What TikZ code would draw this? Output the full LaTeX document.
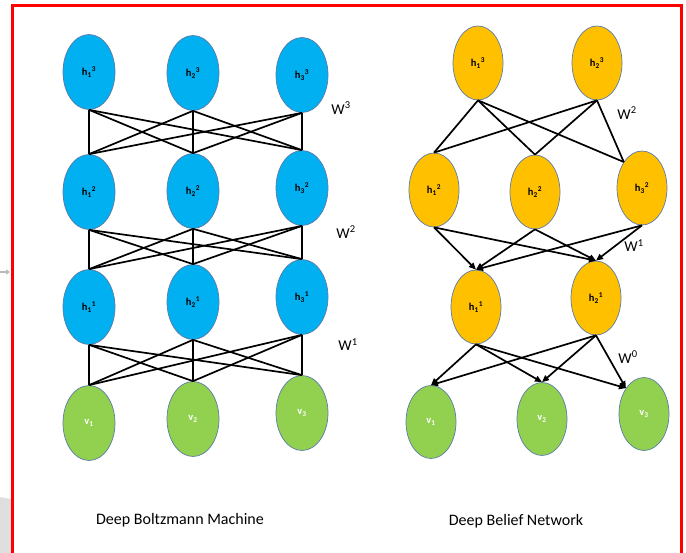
\documentclass[tikz,border=0pt]{standalone}
\usepackage{fontspec}
\setmainfont{Carlito}
\usetikzlibrary{shapes.geometric,arrows.meta}
\definecolor{HBlue}{HTML}{00B0F0}
\definecolor{HOrange}{HTML}{FFC000}
\definecolor{VGreen}{HTML}{92D050}
\definecolor{Rim}{HTML}{5B7BA6}
\NewDocumentCommand{\HLab}{m m}{h\textsubscript{#1}\textsuperscript{#2}}
\NewDocumentCommand{\VLab}{m}{v\textsubscript{#1}}
\tikzset{
    unit/.style={ellipse, draw=Rim, line width=0.7pt, minimum width=52, minimum height=75,
        inner sep=0pt, font=\fontsize{10.5}{10.5}\selectfont\bfseries},
    hid/.style={unit, fill=HBlue},
    belief/.style={unit, fill=HOrange, minimum width=50, minimum height=74},
    vis/.style={unit, fill=VGreen, text=white},
    link/.style={black, line width=1.7pt},
    dlink/.style={link, -{Triangle[length=7pt,width=6pt]}},
    wlab/.style={font=\fontsize{15}{18}\selectfont},
}
\begin{document}
\begin{tikzpicture}[x=1pt, y=-1pt]

    \useasboundingbox (0,0) rectangle (686,553);

    % bits of the screenshot outside the frame
    \fill[gray!25] (0,497) -- (11,499) -- (11,553) -- (0,553) -- cycle;
    \draw[gray!55, line width=2pt, -{Triangle[length=4pt,width=5pt]}] (0,272) -- (10,272);
    \draw[red, line width=2.5pt] (12.5,553) |- (681.5,5.5) -- (681.5,553);

    % Deep Boltzmann Machine
    \node[hid] (bm-h3-1) at (89,72)  {\HLab{1}{3}};
    \node[hid] (bm-h3-2) at (193,73) {\HLab{2}{3}};
    \node[hid] (bm-h3-3) at (302,75) {\HLab{3}{3}};
    \node[hid] (bm-h2-1) at (89,192)  {\HLab{1}{2}};
    \node[hid] (bm-h2-2) at (193,191) {\HLab{2}{2}};
    \node[hid] (bm-h2-3) at (302,188) {\HLab{3}{2}};
    \node[hid] (bm-h1-1) at (89,307)  {\HLab{1}{1}};
    \node[hid] (bm-h1-2) at (193,302) {\HLab{2}{1}};
    \node[hid] (bm-h1-3) at (302,297) {\HLab{3}{1}};
    \node[vis] (bm-v-1) at (89,423)  {\VLab{1}};
    \node[vis] (bm-v-2) at (193,419) {\VLab{2}};
    \node[vis] (bm-v-3) at (302,413) {\VLab{3}};

    \foreach \i in {1,2,3} {
        \foreach \j in {1,2,3} {
            \draw[link] (bm-h3-\i.south) -- (bm-h2-\j.north);
            \draw[link] (bm-h2-\i.south) -- (bm-h1-\j.north);
            \draw[link] (bm-h1-\i.south) -- (bm-v-\j.north);
        }
    }

    \node[wlab] (bm-w3) at (341,108) {W\textsuperscript{3}};
    \node[wlab] (bm-w2) at (346,232) {W\textsuperscript{2}};
    \node[wlab] (bm-w1) at (348,345) {W\textsuperscript{1}};
    \node[font=\fontsize{16}{19}\selectfont] (bm-title) at (180,520) {Deep Boltzmann Machine};

    % Deep Belief Network
    \node[belief] (dn-h3-1) at (478,63) {\HLab{1}{3}};
    \node[belief] (dn-h3-2) at (597,63) {\HLab{2}{3}};
    \node[belief] (dn-h2-1) at (434,190) {\HLab{1}{2}};
    \node[belief] (dn-h2-2) at (535,192) {\HLab{2}{2}};
    \node[belief] (dn-h2-3) at (642,188) {\HLab{3}{2}};
    \node[belief] (dn-h1-1) at (476,307) {\HLab{1}{1}};
    \node[belief] (dn-h1-2) at (596,298) {\HLab{2}{1}};
    \node[vis, minimum width=50, minimum height=73] (dn-v-1) at (431,422) {\VLab{1}};
    \node[vis, minimum width=50, minimum height=73] (dn-v-2) at (542,419) {\VLab{2}};
    \node[vis, minimum width=50, minimum height=73] (dn-v-3) at (644,414) {\VLab{3}};

    \foreach \i in {1,2} {
        \foreach \j/\a in {1/north,2/north,3/125} {
            \draw[link] (dn-h3-\i.south) -- (dn-h2-\j.\a);
            \draw[dlink] (dn-h1-\i.south) -- (dn-v-\j.\a);
        }
    }
    \foreach \i in {1,2,3} {
        \foreach \j in {1,2} {
            \draw[dlink] (dn-h2-\i.south) -- (dn-h1-\j.north);
        }
    }

    \node[wlab] (dn-w2) at (627,113) {W\textsuperscript{2}};
    \node[wlab] (dn-w1) at (634,246) {W\textsuperscript{1}};
    \node[wlab] (dn-w0) at (628,357) {W\textsuperscript{0}};
    \node[font=\fontsize{16}{19}\selectfont] (dn-title) at (516,521) {Deep Belief Network};
\end{tikzpicture}
\end{document}
